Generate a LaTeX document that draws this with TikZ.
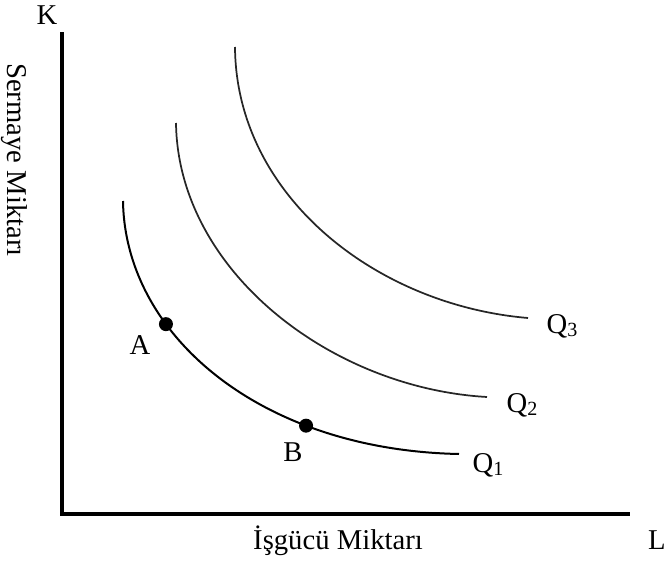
\documentclass[tikz,border=0pt]{standalone}
\usepackage{fontspec}
\setmainfont{Liberation Serif}
\usetikzlibrary{positioning}

\begin{document}
\begin{tikzpicture}[
        x=0.75pt, y=-0.75pt,
        axis/.style={line width=3pt},
        isoquant/.style={line width=1.3pt, black!85},
        dot/.style={circle, fill=black, inner sep=0pt, minimum size=10.5pt},
        lbl/.style={font=\fontsize{21.5}{26}\selectfont, inner sep=0pt}
    ]
    \useasboundingbox (0,0) rectangle (665,564);

    % axes
    \coordinate (ktop) at (62,32);
    \coordinate (origin) at (62,514);
    \coordinate (lend) at (630,514);
    \draw[axis] (ktop) -- (origin) -- (lend);

    \node[lbl] (klabel) at (47,15) {K};
    \node[lbl] (llabel) at (657,540) {L};
    \node[lbl] (xlabel) at (338,541) {İşgücü Miktarı};
    \node[lbl, rotate=-90] (ylabel) at (14,160) {Sermaye Miktarı};

    % isoquants
    \draw[isoquant, line width=1.5pt, black] (123,201) .. controls (125,335) and (260,450) .. (459,454)
        node[dot, pos=0.33] (ptA) {}
        node[dot, pos=0.715] (ptB) {};
    \draw[isoquant] (176,123) .. controls (178,270) and (330,388) .. (487,397);
    \draw[isoquant] (235,47) .. controls (236,195) and (375,305) .. (528,318);

    \node[lbl] (alabel) at (140,345) {A};
    \node[lbl] (blabel) at (293,452) {B};
    \node[lbl] (q1) at (488,465) {Q\raisebox{-0.12em}{\scalebox{0.7}{1}}};
    \node[lbl] (q2) at (522,405) {Q\raisebox{-0.12em}{\scalebox{0.7}{2}}};
    \node[lbl] (q3) at (562,326) {Q\raisebox{-0.12em}{\scalebox{0.7}{3}}};
\end{tikzpicture}
\end{document}
